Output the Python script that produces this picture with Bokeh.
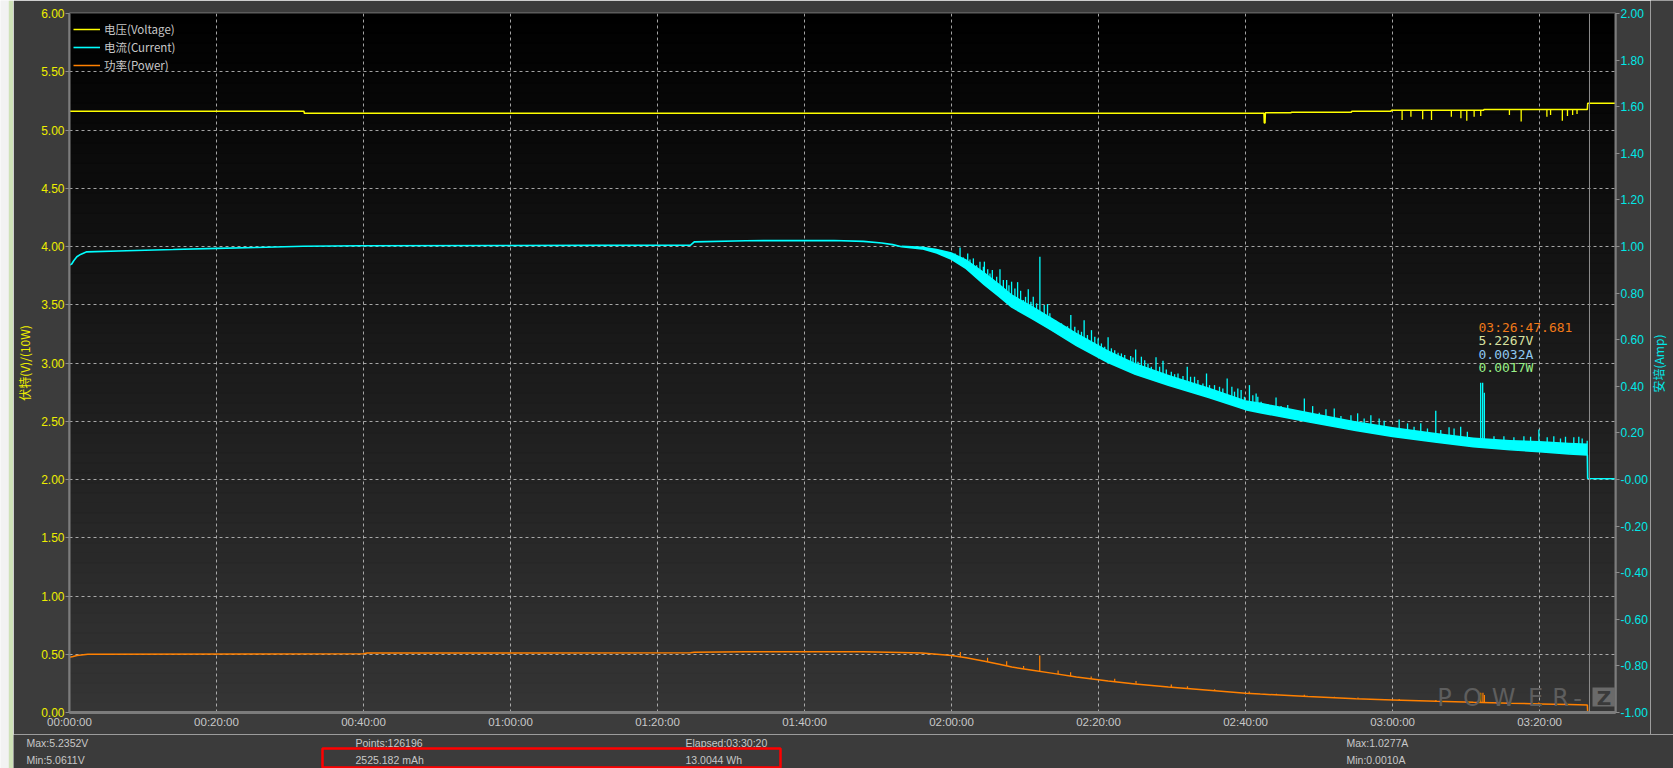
import numpy as np
from bokeh.plotting import figure
from bokeh.layouts import row, column
from bokeh.models import (Range1d, LinearAxis, FixedTicker, Span, Label, Legend,
                          LegendItem, BoxAnnotation, NumeralTickFormatter)
from bokeh.core.properties import value
from bokeh.embed import file_html
from bokeh.resources import INLINE

# ---------------- data (time in minutes) ----------------
elapsed_min = 210.333          # Elapsed 03:30:20
cursor_t = 206.795             # 03:26:47.681

x_ticks = [0, 20, 40, 60, 80, 100, 120, 140, 160, 180, 200]
x_tick_labels = ["00:00:00", "00:20:00", "00:40:00", "01:00:00", "01:20:00", "01:40:00",
                 "02:00:00", "02:20:00", "02:40:00", "03:00:00", "03:20:00"]
volt_ticks = [0, 0.5, 1, 1.5, 2, 2.5, 3, 3.5, 4, 4.5, 5, 5.5, 6]
amp_ticks = [-1.0, -0.8, -0.6, -0.4, -0.2, 0.0, 0.2, 0.4, 0.6, 0.8, 1.0, 1.2, 1.4, 1.6, 1.8, 2.0]
amp_tick_labels = ["-1.00", "-0.80", "-0.60", "-0.40", "-0.20", "-0.00", "0.20", "0.40", "0.60",
                   "0.80", "1.00", "1.20", "1.40", "1.60", "1.80", "2.00"]

# voltage (V)
volt_t = [0, 31.9, 31.95, 162.5, 162.55, 162.65, 162.7, 166.2, 166.25, 174.4, 174.45,
          179.8, 179.85, 192.4, 192.45, 206.5, 206.55, 210.333]
volt_v = [5.162, 5.162, 5.143, 5.143, 5.061, 5.061, 5.149, 5.149, 5.152, 5.152, 5.160,
          5.160, 5.169, 5.169, 5.177, 5.177, 5.229, 5.229]
volt_dip_t = [181.3, 182.5, 184.1, 185.3, 188.0, 189.3, 190.1, 191.1, 192.0, 195.9, 197.5,
              201.0, 201.5, 203.1, 203.8, 204.5, 205.1]
volt_dip_v = [5.086, 5.114, 5.092, 5.086, 5.114, 5.100, 5.080, 5.114, 5.120, 5.129, 5.072,
              5.114, 5.129, 5.080, 5.120, 5.129, 5.137]

# current (A) - constant-current part
cur_flat_t = [0, 0.3, 0.6, 1.0, 1.5, 2.35, 7.8, 14.1, 20.0, 25.4, 31.8, 39.5, 60, 84.5, 85,
              92, 104, 108, 110.5, 112]
cur_flat_a = [0.920, 0.925, 0.940, 0.956, 0.966, 0.977, 0.982, 0.987, 0.992, 0.996, 1.001,
              1.003, 1.004, 1.006, 1.020, 1.025, 1.026, 1.022, 1.015, 1.008]
# current (A) - tapering part: lower edge and upper edge of the noisy band
cur_tail_t = [113.2, 116, 118, 120, 122, 124.5, 126.5, 128.2, 131, 133.6, 137, 141.3, 145,
              149.5, 155, 160, 162, 168.5, 175, 180, 186, 191, 196, 200, 204, 206.5]
cur_tail_low = [0.999, 0.990, 0.972, 0.945, 0.905, 0.835, 0.785, 0.740, 0.690, 0.641, 0.575,
                0.502, 0.452, 0.405, 0.352, 0.300, 0.287, 0.248, 0.210, 0.185, 0.160, 0.141,
                0.128, 0.119, 0.110, 0.105]
cur_tail_high = [1.004, 1.000, 0.990, 0.975, 0.945, 0.890, 0.840, 0.795, 0.745, 0.695, 0.630,
                 0.555, 0.500, 0.450, 0.395, 0.340, 0.330, 0.290, 0.250, 0.225, 0.200, 0.180,
                 0.170, 0.165, 0.158, 0.155]
cur_end_t = [206.55, 210.333]
cur_end_a = [0.004, 0.003]
cur_spike_t = [121.16, 122.20, 122.97, 123.87, 124.47, 124.92, 125.55, 126.59, 127.50, 128.17,
               128.99, 129.76, 130.44, 131.12, 132.02, 132.61, 133.06, 133.83, 134.51, 135.41,
               136.23, 136.77, 138.04, 139.04, 139.94, 141.30, 142.20, 143.11, 144.37, 145.05,
               145.83, 146.73, 147.82, 148.77, 149.90, 150.81, 152.07, 153.06, 154.69, 155.78,
               157.50, 158.14, 158.95, 160.53, 161.44, 161.67, 164.15, 165.74, 168.00, 169.13,
               170.94, 172.07, 174.34, 175.25, 177.05, 178.18, 180.90, 183.84, 185.88, 187.69,
               189.27, 191.99, 192.26, 192.49, 195.15, 197.87, 199.91, 201.94, 203.53, 205.34,
               206.48,
               118.67, 119.35, 120.48, 121.61, 122.51, 123.42, 124.33, 125.23, 126.14, 127.05,
               127.81, 128.62, 129.40, 130.07, 130.80, 131.57, 133.38, 134.15, 134.96, 135.78,
               137.23, 137.68, 138.49, 139.49, 140.39, 140.84, 141.75, 142.66, 143.56, 144.69,
               145.37, 146.28, 147.18, 148.31, 149.22, 150.35, 151.49, 152.52, 153.52, 154.20,
               155.10, 156.46, 156.91, 158.50, 159.40, 159.85, 160.99, 162.12, 163.03, 164.83,
               166.64, 170.03, 172.98, 176.14, 178.86, 182.04, 182.93, 184.75, 186.56, 188.37,
               190.18, 193.80, 196.51, 198.78, 201.04, 202.85, 204.66, 205.80]
cur_spike_a = [0.996, 0.970, 0.949, 0.935, 0.935, 0.902, 0.899, 0.902, 0.856, 0.849,
               0.847, 0.770, 0.816, 0.784, 0.956, 0.749, 0.753, 0.684, 0.663, 0.656,
               0.706, 0.656, 0.684, 0.641, 0.605, 0.610, 0.555, 0.541, 0.530, 0.558,
               0.527, 0.498, 0.525, 0.510, 0.462, 0.455, 0.484, 0.441, 0.455, 0.405,
               0.434, 0.398, 0.391, 0.405, 0.369, 0.355, 0.352, 0.320, 0.348, 0.315,
               0.301, 0.305, 0.276, 0.284, 0.276, 0.262, 0.258, 0.241, 0.295, 0.224,
               0.226, 0.415, 0.415, 0.372, 0.186, 0.186, 0.215, 0.186, 0.183, 0.183,
               0.166,
               0.982, 0.977, 0.970, 0.953, 0.944, 0.920, 0.913, 0.884, 0.870, 0.856,
               0.834, 0.820, 0.810, 0.784, 0.763, 0.756, 0.713, 0.684, 0.670, 0.658,
               0.641, 0.634, 0.620, 0.613, 0.584, 0.570, 0.563, 0.544, 0.534, 0.524,
               0.505, 0.512, 0.484, 0.484, 0.472, 0.452, 0.444, 0.441, 0.427, 0.412,
               0.405, 0.398, 0.391, 0.377, 0.384, 0.355, 0.362, 0.334, 0.324, 0.315,
               0.298, 0.286, 0.272, 0.262, 0.252, 0.241, 0.226, 0.219, 0.212, 0.219,
               0.205, 0.186, 0.181, 0.183, 0.181, 0.176, 0.181, 0.176]

# power (W / 10)
pow_t = [0, 0.5, 1.0, 2.5, 40, 40.5, 84.5, 85, 92, 108, 113, 116, 118, 120, 122, 124.5, 126.5,
         128.2, 131, 133.6, 137, 141.3, 145, 149.5, 155, 160, 162, 168.5, 175, 180, 186, 191,
         196, 200, 204, 206.5, 206.55, 210.333]
pow_v = [0.475, 0.480, 0.490, 0.500, 0.505, 0.510, 0.512, 0.518, 0.522, 0.522, 0.515, 0.510,
         0.500, 0.490, 0.470, 0.440, 0.415, 0.390, 0.363, 0.338, 0.305, 0.270, 0.245, 0.218,
         0.190, 0.165, 0.158, 0.137, 0.118, 0.108, 0.097, 0.088, 0.080, 0.074, 0.068, 0.064,
         0.002, 0.002]
pow_spike_t = [121.2, 124.9, 127.5, 129.8, 132.0, 134.5, 136.2, 139.0, 142.2, 145.1, 149.9,
               152.1, 155.8, 160.5, 164.2, 168.0, 172.1, 175.3, 180.9, 185.9, 192.0, 192.3,
               192.5, 199.9, 203.5]
pow_spike_v = [0.520, 0.470, 0.440, 0.400, 0.490, 0.360, 0.345, 0.310, 0.290, 0.270, 0.240,
               0.225, 0.200, 0.180, 0.160, 0.152, 0.135, 0.128, 0.115, 0.108, 0.170, 0.170,
               0.150, 0.085, 0.080]

cursor_texts = ["03:26:47.681", "5.2267V", "0.0032A", "0.0017W"]
stats_col1 = ["Max:5.2352V", "Min:5.0611V"]
stats_col2 = ["Points:126196", "2525.182 mAh"]
stats_col3 = ["Elapsed:03:30:20", "13.0044 Wh"]
stats_col4 = ["Max:1.0277A", "Min:0.0010A"]
left_title = "伏特(V)/(10W)"
right_title = "安培(Amp)"

# ---------------- styling ----------------
YELLOW = "#ffff00"
CYAN = "#00ffff"
ORANGE = "#ff8000"
BG = "#3c3c3c"
TICK_FONT = "Liberation Sans"
FRAME_L_PAGE, FRAME_B_PAGE = 66, 712   # page coords of the plot frame's left / bottom


def no_frame_align(fig):
    if "frame_align" in fig.properties():
        fig.frame_align = False


def bare_figure(w, h, xr, yr, bg):
    f = figure(width=w, height=h, output_backend="svg", toolbar_location=None,
               x_range=xr, y_range=yr, min_border=0, min_border_left=0,
               min_border_right=0, min_border_top=0, min_border_bottom=0,
               x_axis_location=None, y_axis_location=None,
               background_fill_color=bg, border_fill_color=bg, outline_line_color=None)
    f.grid.visible = False
    no_frame_align(f)
    return f


p = figure(width=1637, height=734, output_backend="svg", toolbar_location=None,
           x_range=Range1d(0, elapsed_min), y_range=Range1d(0, 6),
           min_border_left=53, min_border_right=34, min_border_top=13, min_border_bottom=22,
           background_fill_color="#000000", border_fill_color=BG,
           outline_line_color="#7c7c7c", outline_line_width=2)
p.extra_y_ranges = {"amp": Range1d(-1, 2)}
no_frame_align(p)

# gradient plot background (black at top -> dark grey at bottom)
N = 70
bg_bottom = [6 * i / N for i in range(N)]
bg_top = [6 * (i + 1) / N for i in range(N)]
bg_col = []
for i in range(N):
    g = int(round(0x35 * (1 - (i + 0.5) / N)))
    bg_col.append("#%02x%02x%02x" % (g, g, g))
p.quad(left=0, right=elapsed_min, bottom=bg_bottom, top=bg_top, fill_color=bg_col,
       line_color=bg_col, line_width=1, level="image")

# axes
xa = p.xaxis[0]
xa.ticker = FixedTicker(ticks=x_ticks)
xa.major_label_overrides = {t: s for t, s in zip(x_ticks, x_tick_labels)}
xa.major_label_text_color = "#c8c8c8"
xa.major_label_text_font = TICK_FONT
xa.major_label_text_font_size = "11.5px"
xa.major_tick_out = 0
xa.major_tick_in = 0
xa.minor_tick_out = 0
xa.minor_tick_in = 0
xa.major_label_standoff = 3
xa.axis_line_color = "#7c7c7c"
xa.axis_line_width = 3

ya = p.yaxis[0]
ya.ticker = FixedTicker(ticks=volt_ticks)
ya.formatter = NumeralTickFormatter(format="0.00")
ya.major_label_text_color = "#eeee00"
ya.major_label_text_font = TICK_FONT
ya.major_label_text_font_size = "12px"
ya.major_tick_out = 4
ya.major_tick_in = 0
ya.minor_tick_out = 0
ya.minor_tick_in = 0
ya.major_tick_line_color = "#8c8c8c"
ya.major_label_standoff = 1
ya.axis_line_color = "#7c7c7c"
ya.axis_line_width = 2
ya.axis_label = left_title
ya.axis_label_text_color = "#eeee00"
ya.axis_label_text_font = "Noto Sans CJK SC"
ya.axis_label_text_font_size = "12px"
ya.axis_label_text_font_style = "normal"
ya.axis_label_standoff = 5

ra = LinearAxis(y_range_name="amp")
ra.ticker = FixedTicker(ticks=amp_ticks)
ra.major_label_overrides = {t: s for t, s in zip(amp_ticks, amp_tick_labels)}
ra.major_label_text_color = "#00e8e8"
ra.major_label_text_font = TICK_FONT
ra.major_label_text_font_size = "12px"
ra.major_tick_out = 4
ra.major_tick_in = 0
ra.minor_tick_out = 0
ra.minor_tick_in = 0
ra.major_tick_line_color = "#8c8c8c"
ra.major_label_standoff = 1
ra.axis_line_color = "#7c7c7c"
ra.axis_line_width = 2
p.add_layout(ra, "right")

# grid
p.xgrid.ticker = FixedTicker(ticks=x_ticks)
p.ygrid.ticker = FixedTicker(ticks=volt_ticks)
for g in (p.xgrid[0], p.ygrid[0]):
    g.grid_line_color = "#c0c0c0"
    g.grid_line_dash = "3 3"
    g.grid_line_width = 1
    g.grid_line_alpha = 0.85

# ---------------- data glyphs ----------------
r_pow = p.line(pow_t, pow_v, line_color=ORANGE, line_width=1.5)
pow_base = np.interp(pow_spike_t, pow_t, pow_v)
p.segment(x0=pow_spike_t, y0=pow_base, x1=pow_spike_t, y1=pow_spike_v,
          line_color=ORANGE, line_width=1.2)

p.varea(x=cur_tail_t, y1=cur_tail_low, y2=cur_tail_high, y_range_name="amp",
        fill_color=CYAN)
cur_t = cur_flat_t + cur_tail_t + cur_end_t
cur_a = cur_flat_a + cur_tail_low + cur_end_a
r_cur = p.line(cur_t, cur_a, y_range_name="amp", line_color=CYAN, line_width=1.6)
cur_base = np.interp(cur_spike_t, cur_tail_t, cur_tail_low)
p.segment(x0=cur_spike_t, y0=cur_base, x1=cur_spike_t, y1=cur_spike_a,
          y_range_name="amp", line_color=CYAN, line_width=1.3)

r_volt = p.line(volt_t, volt_v, line_color=YELLOW, line_width=1.5)
volt_base = np.interp(volt_dip_t, volt_t, volt_v)
p.segment(x0=volt_dip_t, y0=volt_base, x1=volt_dip_t, y1=volt_dip_v,
          line_color=YELLOW, line_width=1.3)

p.add_layout(Span(location=cursor_t, dimension="height", line_color="#8c8c8c", line_width=1))

legend = Legend(items=[LegendItem(label="电压(Voltage)", renderers=[r_volt]),
                       LegendItem(label="电流(Current)", renderers=[r_cur]),
                       LegendItem(label="功率(Power)", renderers=[r_pow])],
                location=(4, 639), orientation="vertical", padding=0, margin=0,
                spacing=2, glyph_width=27, glyph_height=12, label_height=12,
                label_standoff=4, label_text_font="Noto Sans CJK SC",
                label_text_font_size="11.5px", label_text_color="#c8c8c8",
                background_fill_alpha=0, border_line_alpha=0)
p.add_layout(legend)


def add_text(text, xf, yf, color, size, font, align="left", style="normal"):
    p.add_layout(Label(x=xf - FRAME_L_PAGE, y=FRAME_B_PAGE - yf, x_units="screen",
                       y_units="screen", text=text, text_color=color,
                       text_font_size=f"{size}px", text_font=font, text_align=align,
                       text_baseline="middle", text_font_style=style))


# cursor read-out
cur_cols = ["#f07818", "#d8e0a0", "#8ec8f0", "#98f088"]
for i, (txt, col) in enumerate(zip(cursor_texts, cur_cols)):
    add_text(txt, 1475, 326.7 + i * 13.4, col, 13, "DejaVu Sans Mono")

# POWER-Z watermark
for ch, xc in zip("POWER-", [1441, 1469, 1500, 1532, 1557, 1574]):
    add_text(ch, xc, 697, "#5e5e5e", 24, "DejaVu Sans", "center")
p.add_layout(BoxAnnotation(left=1589 - FRAME_L_PAGE, right=1612 - FRAME_L_PAGE,
                           top=FRAME_B_PAGE - 687, bottom=FRAME_B_PAGE - 706,
                           left_units="screen", right_units="screen",
                           top_units="screen", bottom_units="screen",
                           fill_color="#6a6a6a", fill_alpha=1, line_alpha=0))
add_text("Z", 1600.5, 697, "#3a3a3a", 20, "DejaVu Sans", "center", style="bold")

# ---------------- right-hand axis title (page coordinates) ----------------
rt = bare_figure(23, 734, Range1d(1650, 1673), Range1d(734, 0), BG)
rt.text(x=[1658], y=[363], text=[right_title], angle=np.pi / 2, text_color="#00e8e8",
        text_font=value("Noto Sans CJK SC"), text_font_size="12px",
        text_align="center", text_baseline="middle")

# ---------------- statistics strip (page coordinates) ----------------
st = bare_figure(1660, 34, Range1d(13, 1673), Range1d(768, 734), "#3b3b3b")
for col_txt, xc in zip([stats_col1, stats_col2, stats_col3, stats_col4], [26, 355, 685, 1346]):
    st.text(x=[xc, xc], y=[742.6, 759.6], text=col_txt, text_color="#c8c8c8",
            text_font=value("Liberation Sans"), text_font_size="10.5px",
            text_baseline="middle", text_align="left")
st.quad(left=[322], right=[780], top=[748], bottom=[767], fill_alpha=0,
        line_color="#ff0000", line_width=2.5)

# ---------------- window edge at the far left ----------------
edge = bare_figure(13, 768, Range1d(0, 13), Range1d(0, 768), "#f2f2f2")
edge.quad(left=[8.3], right=[13], bottom=[0], top=[768], fill_color="#cfe2b8",
          line_color=None)

layout = row(edge, column(row(p, rt, spacing=0), st, spacing=0), spacing=0)
open("out.html", "w").write(file_html(layout, INLINE))
